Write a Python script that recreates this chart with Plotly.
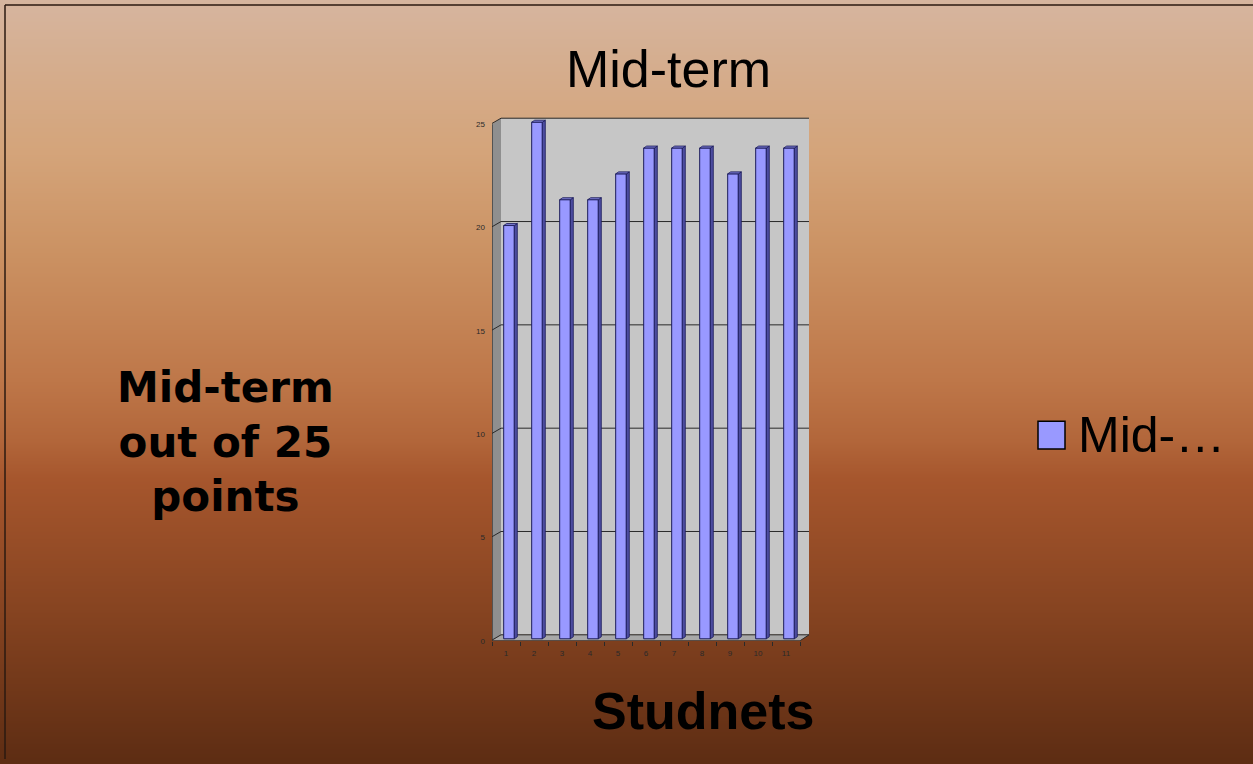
import numpy as np
import plotly.graph_objects as go

# ---------------- data ----------------
students = [1, 2, 3, 4, 5, 6, 7, 8, 9, 10, 11]
student_labels = [str(s) for s in students]
midterm = [20, 25, 21.25, 21.25, 22.5, 23.75, 23.75, 23.75, 22.5, 23.75, 23.75]
y_ticks = [0, 5, 10, 15, 20, 25]
series_name = "Mid-term"
legend_label = "Mid-…"
chart_title = "Mid-term"
y_title = "Mid-term<br>out of 25<br>points"
x_title = "Studnets"

# ---------------- geometry (pixels) ----------------
W, H = 1253, 764
PX_LEFT = 492        # front-left edge of the 3D box
PX_RIGHT_BOX = 812   # right edge of plotting box
PX_TOP_BOX = 112     # top of plotting box
PX_ZERO = 645        # front baseline
UX = 28.0            # px per category
UY = 20.8            # px per point
DXP, DYP = 9.0, 6.0  # depth offset in px
dx = DXP / UX
dy = DYP / UY
x_lo, x_hi = 0.5, 0.5 + (PX_RIGHT_BOX - PX_LEFT) / UX
y_lo, y_hi = 0.0, (PX_ZERO - PX_TOP_BOX) / UY
ymax = max(y_ticks)
n = len(students)
xL, xR = 0.5, n + 0.5
bw = 0.38
b0 = dy / 3.0

dom_x = [PX_LEFT / W, PX_RIGHT_BOX / W]
dom_y = [1 - PX_ZERO / H, 1 - PX_TOP_BOX / H]

fig = go.Figure()

# ---------------- background gradient ----------------
bg_stops = [
    (0.00, "#D6B59F"), (0.10, "#D5AC8B"), (0.20, "#D4A47A"), (0.33, "#CB9263"),
    (0.50, "#BE7749"), (0.58, "#B2663A"), (0.63, "#A6562D"), (0.80, "#874421"),
    (1.00, "#5E2D13"),
]
yy = np.linspace(-0.02, 1.02, 300)
zz = [[min(max(1 - v, 0), 1)] * 2 for v in yy]
fig.add_trace(go.Heatmap(x=[-0.1, 1.1], y=yy, z=zz, colorscale=[list(s) for s in bg_stops],
                         zmin=0, zmax=1, zsmooth="best", showscale=False, hoverinfo="skip",
                         xaxis="x", yaxis="y"))

# ---------------- bars (front faces) ----------------
fig.add_trace(go.Bar(
    x=[s + dx / 3 for s in students], y=midterm, base=b0, width=bw,
    marker=dict(color="#9999FF", line=dict(color="#1C1C5A", width=1)),
    name=series_name, showlegend=False, xaxis="x2", yaxis="y2",
    hovertemplate="%{y}<extra></extra>"))

# side & top faces
sx, sy, tx, ty = [], [], [], []
for s, v in zip(students, midterm):
    xl = s + dx / 3 - bw / 2
    xr = s + dx / 3 + bw / 2
    top = v + b0
    sx += [xr, xr + dx / 3, xr + dx / 3, xr, xr, None]
    sy += [b0, b0 + dy / 3, top + dy / 3, top, b0, None]
    tx += [xl, xr, xr + dx / 3, xl + dx / 3, xl, None]
    ty += [top, top, top + dy / 3, top + dy / 3, top, None]
fig.add_trace(go.Scatter(x=sx, y=sy, mode="lines", fill="toself", fillcolor="#4D4DA0",
                         line=dict(color="#1C1C5A", width=0.8), showlegend=False,
                         hoverinfo="skip", xaxis="x2", yaxis="y2"))
fig.add_trace(go.Scatter(x=tx, y=ty, mode="lines", fill="toself", fillcolor="#7676CC",
                         line=dict(color="#1C1C5A", width=0.8), showlegend=False,
                         hoverinfo="skip", xaxis="x2", yaxis="y2"))

# ---------------- 3D box (walls, floor, gridlines) ----------------
shapes = []
ax = dict(xref="x2", yref="y2", layer="below")
shapes.append(dict(type="rect", x0=xL + dx, x1=xR + dx, y0=dy, y1=ymax + dy,
                   fillcolor="#C6C6C6", line=dict(width=0), **ax))
shapes.append(dict(type="path",
                   path=f"M {xL},0 L {xL+dx},{dy} L {xL+dx},{ymax+dy} L {xL},{ymax} Z",
                   fillcolor="#8F8F8F", line=dict(width=0), **ax))
shapes.append(dict(type="path",
                   path=f"M {xL},0 L {xR},0 L {xR+dx},{dy} L {xL+dx},{dy} Z",
                   fillcolor="#A8A8A8", line=dict(width=0), **ax))
gcol = "#2A2A2A"
for t in y_ticks:
    shapes.append(dict(type="line", x0=xL + dx, x1=xR + dx, y0=t + dy, y1=t + dy,
                       line=dict(color=gcol, width=1), **ax))
    shapes.append(dict(type="line", x0=xL - 0.12, x1=xL + dx, y0=t - 0.06, y1=t + dy,
                       line=dict(color=gcol, width=1), **ax))
shapes.append(dict(type="line", x0=xL, x1=xL, y0=0, y1=ymax, line=dict(color=gcol, width=1.2), **ax))
shapes.append(dict(type="line", x0=xL, x1=xR, y0=0, y1=0, line=dict(color=gcol, width=1.2), **ax))
shapes.append(dict(type="line", x0=xR, x1=xR + dx, y0=0, y1=dy, line=dict(color=gcol, width=1), **ax))

# frame
fcol = "#2B1A10"
shapes.append(dict(type="line", xref="paper", yref="paper", x0=5 / W, x1=1, y0=1 - 5 / H, y1=1 - 5 / H,
                   line=dict(color=fcol, width=1.5), layer="above"))
shapes.append(dict(type="line", xref="paper", yref="paper", x0=5 / W, x1=5 / W, y0=0, y1=1 - 5 / H,
                   line=dict(color=fcol, width=1.5), layer="above"))
# legend key
shapes.append(dict(type="rect", xref="paper", yref="paper", x0=1038 / W, x1=1065 / W,
                   y0=1 - 452 / H, y1=1 - 424 / H, fillcolor="#9999FF",
                   line=dict(color="#000000", width=1.5), layer="above"))

annotations = [
    dict(text=chart_title, x=668 / W, y=1 - 69 / H, xref="paper", yref="paper",
         xanchor="center", yanchor="middle", showarrow=False,
         font=dict(family="Liberation Sans, Arial", size=52, color="#000000")),
    dict(text=y_title, x=225 / W, y=1 - 445 / H, xref="paper", yref="paper",
         xanchor="center", yanchor="middle", showarrow=False, align="center",
         font=dict(family="DejaVu Sans", size=42, color="#000000", weight="bold")),
    dict(text=f"<b>{x_title}</b>", x=703 / W, y=1 - 716 / H, xref="paper", yref="paper",
         xanchor="center", yanchor="middle", showarrow=False,
         font=dict(family="Liberation Sans, Arial", size=52, color="#000000")),
    dict(text=legend_label, x=1076 / W, y=1 - 438 / H, xref="paper", yref="paper",
         xanchor="left", yanchor="middle", showarrow=False,
         font=dict(family="Liberation Sans, Arial", size=50, color="#000000")),
]

fig.update_layout(
    width=W, height=H, autosize=False,
    margin=dict(l=0, r=0, t=0, b=0, pad=0),
    paper_bgcolor="#5E2D13", plot_bgcolor="rgba(0,0,0,0)",
    showlegend=False,
    shapes=shapes, annotations=annotations,
    xaxis=dict(domain=[0, 1], range=[0, 1], visible=False, fixedrange=True),
    yaxis=dict(domain=[0, 1], range=[0, 1], visible=False, fixedrange=True),
    xaxis2=dict(domain=dom_x, range=[x_lo, x_hi], anchor="y2", tickmode="array",
                tickvals=students, ticktext=student_labels, ticks="", showgrid=False,
                zeroline=False, showline=False, ticklabelstandoff=6,
                tickfont=dict(family="Liberation Sans, Arial", size=8, color="#2A2A2A"),
                minor=dict(tickmode="linear", tick0=0.5, dtick=1, ticks="outside", ticklen=4,
                           tickcolor=gcol, showgrid=False)),
    yaxis2=dict(domain=dom_y, range=[y_lo, y_hi], anchor="x2", tickmode="array",
                tickvals=y_ticks, ticks="", showgrid=False, zeroline=False, showline=False,
                ticklabelstandoff=6,
                tickfont=dict(family="Liberation Sans, Arial", size=8, color="#2A2A2A")),
)

fig.write_html("out.html")
